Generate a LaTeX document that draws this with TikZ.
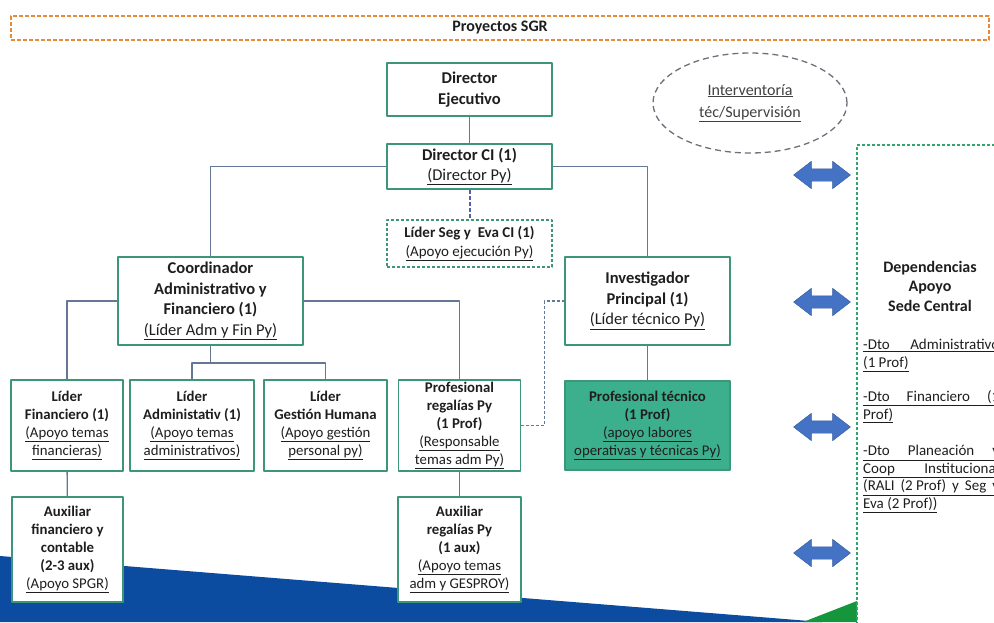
\documentclass[tikz,border=0pt]{standalone}
\usepackage{fontspec}
\setmainfont{Carlito}
\usetikzlibrary{shapes.geometric, shapes.arrows}

\definecolor{boxgreen}{RGB}{62,150,122}
\definecolor{sidegreen}{RGB}{50,165,110}
\definecolor{tecfill}{RGB}{60,176,140}
\definecolor{linkgray}{RGB}{100,120,150}
\definecolor{hdrorange}{RGB}{228,140,60}
\definecolor{ovalgray}{RGB}{110,110,122}
\definecolor{arrowblue}{RGB}{68,114,196}
\definecolor{bandblue}{RGB}{12,76,160}
\definecolor{bandgreen}{RGB}{22,150,60}
\definecolor{txtdark}{RGB}{30,30,30}

\newcommand{\udl}[1]{\underline{#1}}

\begin{document}
\begin{tikzpicture}[x=1pt, y=-1pt, line join=round,
    bigfont/.style={font=\fontsize{16.5}{20.5}\selectfont},
    midfont/.style={font=\fontsize{15}{18.5}\selectfont},
    smallfont/.style={font=\fontsize{14.8}{17.8}\selectfont},
    orgbox/.style={draw=boxgreen, line width=1.3pt, fill=white, text=txtdark, align=center, inner sep=1pt},
    link/.style={draw=linkgray, line width=1.4pt},
    dashlink/.style={draw=linkgray, line width=1.2pt, dash pattern=on 3pt off 2pt},
    sidearrow/.style={double arrow, fill=arrowblue, draw=arrowblue!80!black, line width=0.4pt,
        minimum height=57pt, minimum width=27pt, inner xsep=0pt, inner ysep=6pt,
        double arrow head extend=7.5pt, double arrow tip angle=75}]

    \useasboundingbox (0,0) rectangle (994,622);

    % Background bands at the bottom
    \fill[bandblue] (0,556) -- (822,622) -- (0,622) -- cycle;
    \fill[bandgreen] (803,622) -- (857,601) -- (857,622) -- cycle;

    % Header
    \node[draw=hdrorange, line width=1.8pt, dash pattern=on 4pt off 2pt, minimum width=978, minimum height=24,
        text=txtdark, font=\fontsize{16}{19}\selectfont\bfseries] (hdr) at (500,28) {Proyectos SGR};

    % Top of the chart
    \node[orgbox, bigfont, minimum width=165, minimum height=53] (dirEjec) at (469.5,89.5)
        {\textbf{Director}\\\textbf{Ejecutivo}};
    \node[orgbox, bigfont, minimum width=165, minimum height=45] (dirCI) at (469.5,166.5)
        {\textbf{Director CI (1)}\\\udl{(Director Py)}};
    \node[orgbox, midfont, dash pattern=on 3pt off 2pt, line width=1.1pt, minimum width=165, minimum height=47] (liderSeg) at (469.5,243.5)
        {\textbf{Líder Seg y\ \ Eva CI (1)}\\\udl{(Apoyo ejecución Py)}};

    % Second level
    \node[orgbox, bigfont, minimum width=185, minimum height=88] (coord) at (210.5,301)
        {\textbf{Coordinador}\\\textbf{Administrativo y}\\\textbf{Financiero (1)}\\\udl{(Líder Adm y Fin Py)}};
    \node[orgbox, bigfont, minimum width=165, minimum height=88] (invest) at (647.5,301)
        {\textbf{Investigador}\\\textbf{Principal (1)}\\\udl{(Líder técnico Py)}};

    % Third level
    \node[orgbox, smallfont, minimum width=112, minimum height=91] (liderFin) at (67,425.5)
        {\textbf{Líder}\\\textbf{Financiero (1)}\\\udl{(Apoyo temas}\\\udl{financieras)}};
    \node[orgbox, smallfont, minimum width=124, minimum height=91] (liderAdm) at (192,425.5)
        {\textbf{Líder}\\\textbf{Administativ (1)}\\\udl{(Apoyo temas}\\\udl{administrativos)}};
    \node[orgbox, smallfont, minimum width=123, minimum height=91] (liderGH) at (325.5,425.5)
        {\textbf{Líder}\\\textbf{Gestión Humana}\\\udl{(Apoyo gestión}\\\udl{personal py)}};
    \node[orgbox, smallfont, minimum width=122, minimum height=91] (profReg) at (459.5,425.5)
        {\textbf{Profesional}\\\textbf{regalías Py}\\\textbf{(1 Prof)}\\\udl{(Responsable}\\\udl{temas adm Py)}};
    \node[orgbox, smallfont, fill=tecfill, minimum width=165, minimum height=89] (profTec) at (647.5,425.5)
        {\textbf{Profesional técnico}\\\textbf{(1 Prof)}\\\udl{(apoyo labores}\\\udl{operativas y técnicas Py)}};

    % Fourth level
    \node[orgbox, smallfont, minimum width=111, minimum height=105] (auxFin) at (67.5,549.5)
        {\textbf{Auxiliar}\\\textbf{financiero y}\\\textbf{contable}\\\textbf{(2-3 aux)}\\\udl{(Apoyo SPGR)}};
    \node[orgbox, smallfont, minimum width=123, minimum height=105] (auxReg) at (459.5,549.5)
        {\textbf{Auxiliar}\\\textbf{regalías Py}\\\textbf{(1 aux)}\\\udl{(Apoyo temas}\\\udl{adm y GESPROY)}};

    % Connectors
    \coordinate (coordBr) at (210.5,363);
    \draw[link] (dirEjec) -- (dirCI);
    \draw[link] (dirCI.west) -| (coord.north);
    \draw[link] (dirCI.east) -| (invest.north);
    \draw[draw=linkgray!80!blue, line width=2pt, dash pattern=on 4pt off 2pt] (dirCI) -- (liderSeg);
    \draw[link] (coord.west) -| (liderFin.north);
    \draw[link] (coord.east) -| (profReg.north);
    \draw[link] (coord) -- (coordBr);
    \draw[link] (liderAdm.north) |- (coordBr) -| (liderGH.north);
    \draw[link] (liderFin) -- (auxFin);
    \draw[link] (profReg) -- (auxReg);
    \draw[link] (invest) -- (profTec);
    \draw[dashlink] (profReg.east) -- ++(23,0) |- (invest.west);

    % Supervision oval
    \node[ellipse, draw=ovalgray, line width=1.3pt, dash pattern=on 6pt off 4pt, minimum width=194, minimum height=100,
        align=center, text=txtdark!85, font=\fontsize{16}{22}\selectfont] (interv) at (750,103)
        {\udl{Interventoría}\\\udl{téc/Supervisión}};

    % Central support box
    \draw[draw=sidegreen, line width=1.3pt, dash pattern=on 3pt off 2pt] (1000,145) -| (857,630);
    \node[align=center, text=txtdark, font=\fontsize{16}{19.5}\selectfont\bfseries] (depTitle) at (930,286)
        {Dependencias\\Apoyo\\Sede Central};
    \node[anchor=west, align=left, inner sep=0pt, text=txtdark, font=\fontsize{15}{17.5}\selectfont] (depAdm) at (863,355.5)
        {\udl{\hbox to 136pt{-Dto\hfill Administrativo}}\\\udl{(1 Prof)}};
    \node[anchor=west, align=left, inner sep=0pt, text=txtdark, font=\fontsize{15}{17.5}\selectfont] (depFin) at (863,407)
        {\udl{\hbox to 136pt{-Dto\hfill Financiero\hfill (1}}\\\udl{Prof)}};
    \node[anchor=west, align=left, inner sep=0pt, text=txtdark, font=\fontsize{15}{17.5}\selectfont] (depPlan) at (863,479)
        {\udl{\hbox to 136pt{-Dto\hfill Planeación\hfill y}}\\\udl{\hbox to 136pt{Coop\hfill Institucional}}\\
         \udl{\hbox to 136pt{(RALI\hfill (2 Prof)\hfill y\hfill Seg\hfill y}}\\\udl{Eva (2 Prof))}};

    % Two-way arrows
    \foreach \ay [count=\ai] in {175,302,427,553}
        \node[sidearrow] (link\ai) at (822,\ay) {};

\end{tikzpicture}
\end{document}
